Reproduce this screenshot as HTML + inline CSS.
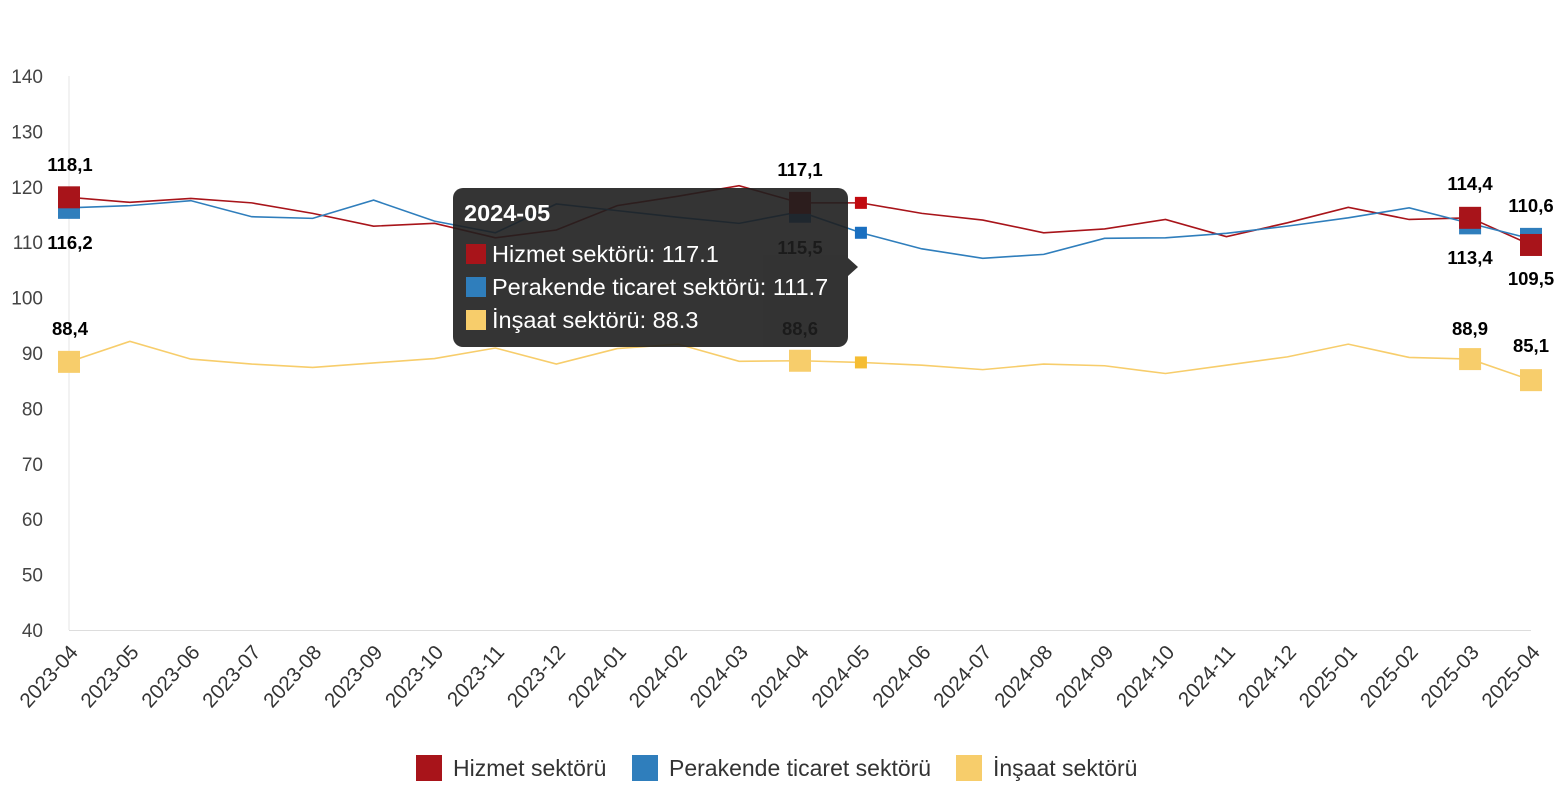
<!DOCTYPE html>
<html><head><meta charset="utf-8"><style>
body{margin:0;background:#fff;}
svg text{font-family:"Liberation Sans","DejaVu Sans",sans-serif;}
</style></head><body>
<svg id="s" width="1556" height="800" xmlns="http://www.w3.org/2000/svg"></svg>
<script>
const s=document.getElementById('s');
const H=[118.1,117.2,117.9,117.1,115.2,112.9,113.4,110.8,112.2,116.6,118.3,120.2,117.1,117.1,115.2,114.0,111.7,112.4,114.1,111.0,113.5,116.3,114.1,114.4,109.5];
const P=[116.2,116.6,117.5,114.6,114.3,117.6,113.8,111.7,116.9,115.7,114.5,113.4,115.5,111.7,108.8,107.1,107.8,110.7,110.8,111.6,112.9,114.4,116.2,113.4,110.6];
const I=[88.4,92.1,88.9,88.0,87.4,88.2,89.0,90.9,88.0,90.8,91.6,88.5,88.6,88.3,87.8,87.0,88.0,87.7,86.3,87.8,89.3,91.6,89.2,88.9,85.1];
const X=i=>69+i*1462/24, Y=v=>630-(v-40)*5.54;
const lab=[];
for(let i=0;i<25;i++){const m=((3+i)%12)+1,y=2023+Math.floor((3+i)/12);lab.push(y+'-'+String(m).padStart(2,'0'));}
let h='';
for(let v=40;v<=140;v+=10)h+=`<text x="43" y="${Y(v)+7}" text-anchor="end" font-size="19" fill="#444">${v}</text>`;
h+=`<line x1="69" y1="76" x2="69" y2="630" stroke="#e6e6e6"/><line x1="69" y1="630.5" x2="1531" y2="630.5" stroke="#ddd"/>`;
lab.forEach((l,i)=>{const x=X(i);h+=`<text transform="translate(${x+10},653) rotate(-48)" text-anchor="end" font-size="20.5" fill="#333">${l}</text>`;});
const C=['#a8141a','#2f7ebc','#f7cd6b'];
[H,P,I].forEach((a,k)=>{h+=`<polyline fill="none" stroke="${C[k]}" stroke-width="1.6" points="${a.map((v,i)=>X(i)+','+Y(v)).join(' ')}"/>`;});
const big=[0,12,23,24];
[I,P,H].forEach((a,kk)=>{const k=2-kk;big.forEach(i=>{h+=`<rect x="${X(i)-11}" y="${Y(a[i])-11}" width="22" height="22" fill="${C[k]}"/>`;});h+=`<rect x="${X(13)-6}" y="${Y(a[13])-6}" width="12" height="12" fill="${k==2?'#f5bd33':k==1?'#1a6fc0':'#c10a10'}"/>`;});
const t=(x,y,s)=>h+=`<text x="${x}" y="${y}" text-anchor="middle" font-size="18.5" font-weight="bold" fill="#000">${s}</text>`;
t(70,171,'118,1');t(70,249,'116,2');t(70,335,'88,4');
t(800,176,'117,1');t(800,254,'115,5');t(800,335,'88,6');
t(1470,190,'114,4');t(1470,264,'113,4');t(1470,335,'88,9');
t(1531,212,'110,6');t(1531,285,'109,5');t(1531,352,'85,1');
h+=`<g opacity="0.9"><rect x="453" y="188" width="395" height="159" rx="10" fill="#1e1e1e"/><path d="M848,258 L858,267 L848,276Z" fill="#1e1e1e"/></g>`;
h+=`<text x="464" y="221" font-size="23.5" font-weight="bold" fill="#fff">2024-05</text>`;
[['Hizmet sektörü: 117.1',0],['Perakende ticaret sektörü: 111.7',1],['İnşaat sektörü: 88.3',2]].forEach(([s2,k],j)=>{const y=254+j*33;h+=`<rect x="466" y="${y-10}" width="20" height="20" fill="${C[k]}"/><text x="492" y="${y+8}" font-size="23.5" fill="#fff">${s2}</text>`;});
[['Hizmet sektörü',416],['Perakende ticaret sektörü',632],['İnşaat sektörü',956]].forEach(([s2,x],k)=>{h+=`<rect x="${x}" y="755" width="26" height="26" fill="${C[k]}"/><text x="${x+37}" y="776" font-size="23" fill="#333">${s2}</text>`;});
s.innerHTML=h;
</script>
</body></html>
